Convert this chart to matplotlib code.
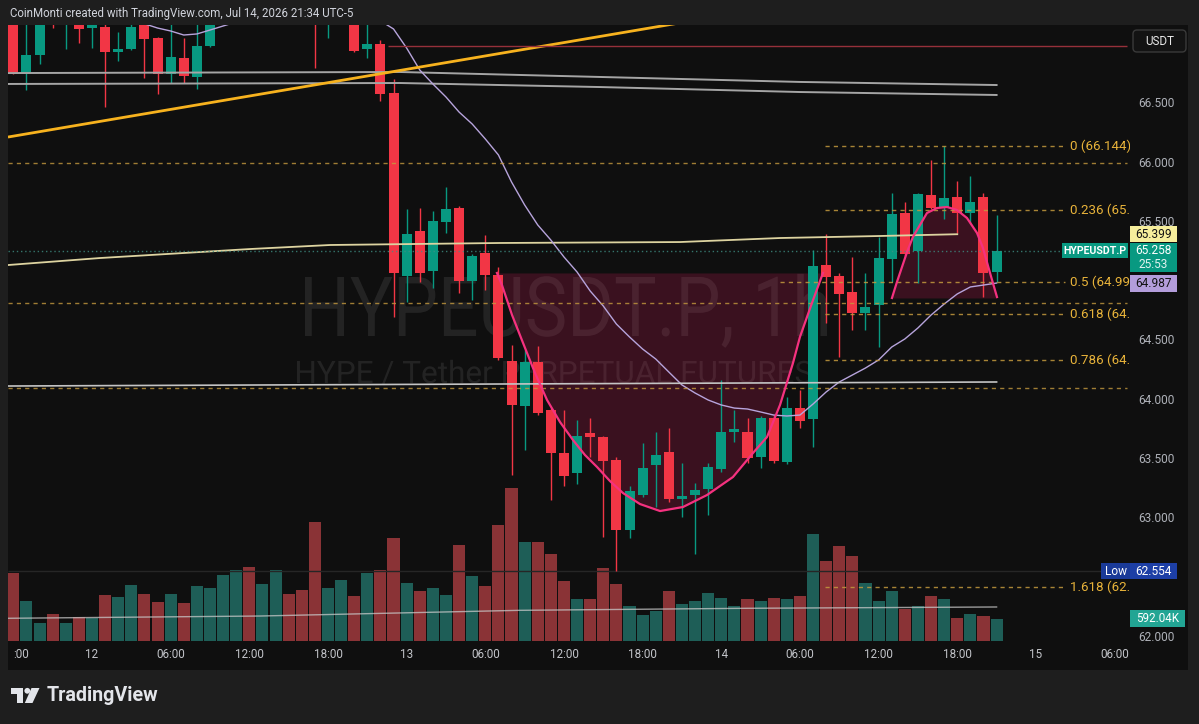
import numpy as np
import matplotlib
matplotlib.use("Agg")
import matplotlib.pyplot as plt
import matplotlib.transforms as mtransforms
from matplotlib.patches import Rectangle, FancyBboxPatch, Polygon, Circle, PathPatch
from matplotlib.textpath import TextPath
from matplotlib.font_manager import FontProperties

plt.rcParams['font.family'] = ['Roboto', 'DejaVu Sans']

# ---------------- data (1h candles, index = hours since Jul 12 00:00) ----------------
bar_index = list(range(-6, 70))
opens = [67.30, 66.759, 66.911, 67.40, 67.20, 67.25, 67.139, 67.148, 66.937, 66.962,
         67.20, 67.055, 66.751, 66.886, 66.726, 66.987, 67.25, 67.40, 67.55, 67.42,
         67.50, 67.62, 67.50, 67.35, 67.20, 67.30, 67.38, 66.962, 67.004, 66.591,
         65.046, 65.426, 65.089, 65.502, 65.620, 65.004, 65.241, 65.055, 64.329, 63.949,
         64.321, 63.916, 63.553, 63.384, 63.722, 63.688, 63.494, 62.903, 63.198, 63.451,
         63.561, 63.165, 63.198, 63.249, 63.418, 63.730, 63.730, 63.519, 63.848, 63.477,
         63.932, 63.840, 65.139, 65.046, 64.911, 64.734, 64.802, 65.190, 65.578, 65.257,
         65.730, 65.629, 65.713, 65.578, 65.713, 65.080]
highs = [67.35, 67.20, 67.30, 67.45, 67.40, 67.30, 67.30, 67.20, 67.105, 67.20,
         67.25, 67.06, 67.20, 67.055, 67.20, 67.30, 67.45, 67.60, 67.62, 67.58,
         67.70, 67.66, 67.55, 67.40, 67.35, 67.42, 67.40, 67.20, 67.038, 66.709,
         65.612, 65.620, 65.595, 65.797, 65.637, 65.232, 65.392, 65.122, 64.464, 64.422,
         64.456, 63.932, 63.916, 63.831, 63.848, 63.696, 63.519, 63.274, 63.637, 63.730,
         63.764, 63.468, 63.300, 63.468, 64.169, 63.916, 63.848, 63.865, 63.873, 64.025,
         64.084, 65.266, 65.401, 65.072, 65.207, 65.072, 65.376, 65.747, 65.671, 65.747,
         66.025, 66.144, 65.848, 65.890, 65.747, 65.561]
lows = [66.755, 66.616, 66.835, 67.139, 66.962, 67.013, 66.970, 66.473, 66.861, 66.955,
        66.717, 66.582, 66.675, 66.675, 66.624, 66.980, 67.20, 67.35, 67.30, 67.35,
        67.45, 67.40, 67.25, 66.802, 67.055, 67.22, 66.940, 66.886, 66.523, 64.700,
        64.827, 64.996, 64.945, 65.409, 64.903, 64.844, 64.928, 64.338, 63.367, 63.578,
        63.873, 63.156, 63.274, 63.291, 63.519, 62.844, 62.554, 62.835, 63.181, 63.097,
        63.139, 63.013, 62.700, 63.030, 63.392, 63.646, 63.468, 63.426, 63.468, 63.460,
        63.764, 63.603, 64.650, 64.363, 64.591, 64.591, 64.447, 64.996, 65.215, 64.987,
        65.612, 65.527, 65.409, 65.494, 64.869, 64.996]
closes = [66.759, 66.911, 67.25, 67.25, 67.35, 67.131, 67.25, 66.937, 66.962, 67.148,
          67.046, 66.751, 66.895, 66.734, 66.987, 67.25, 67.40, 67.55, 67.42, 67.50,
          67.62, 67.50, 67.35, 67.20, 67.30, 67.38, 66.945, 67.004, 66.582, 65.072,
          65.401, 65.072, 65.511, 65.612, 65.004, 65.215, 65.055, 64.354, 63.958, 64.321,
          63.890, 63.553, 63.359, 63.696, 63.688, 63.485, 62.903, 63.232, 63.426, 63.536,
          63.165, 63.190, 63.241, 63.435, 63.730, 63.755, 63.511, 63.848, 63.485, 63.932,
          63.823, 65.131, 65.038, 64.895, 64.734, 64.785, 65.198, 65.570, 65.232, 65.738,
          65.620, 65.705, 65.578, 65.671, 65.072, 65.258]
volumes_k = [1829, 1076, 484, 726, 484, 646, 619, 1237, 1184, 1506,
             1264, 1049, 1264, 1022, 1480, 1426, 1775, 1910, 1991, 1533,
             1910, 1264, 1372, 3201, 1426, 1641, 1211, 1829, 1910, 2771,
             1560, 1345, 1426, 1237, 2582, 1749, 1480, 3120, 4116, 2663,
             2663, 2340, 1614, 1130, 1130, 1964, 1533, 942, 700, 807,
             1345, 995, 1076, 1291, 1157, 942, 1130, 1076, 1157, 1130,
             1211, 2878, 2152, 2556, 2287, 1560, 1076, 1345, 861, 942,
             1211, 1130, 619, 726, 673, 592.04]
ma_purple = [67.45, 67.42, 67.40, 67.37, 67.35, 67.33, 67.30, 67.28, 67.25, 67.21,
             67.175, 67.139, 67.114, 67.080, 67.089, 67.122, 67.156, 67.19, 67.22, 67.25,
             67.27, 67.30, 67.32, 67.33, 67.34, 67.33, 67.31, 67.28, 67.20, 67.131,
             66.970, 66.785, 66.667, 66.557, 66.430, 66.329, 66.203, 66.068, 65.840, 65.646,
             65.477, 65.350, 65.207, 65.080, 64.920, 64.793, 64.641, 64.532, 64.430, 64.346,
             64.236, 64.127, 64.059, 64.000, 63.958, 63.932, 63.924, 63.899, 63.873, 63.865,
             63.873, 63.966, 64.068, 64.152, 64.211, 64.270, 64.338, 64.447, 64.515, 64.608,
             64.717, 64.810, 64.895, 64.954, 64.970, 64.987]

vol_ma_x = [-6.4, 12.8, 32.6, 50.0, 69.0]
vol_ma_k = [611, 672, 825, 880, 915]

trend_x = [-6.41, 46.15]
trend_p = [66.219, 67.207]
gray_ma_x = [-6.4, 23.5, 38.75, 54.0, 69.0]
gray_ma_a = [66.759, 66.768, 66.726, 66.684, 66.658]
gray_ma_b = [66.667, 66.675, 66.641, 66.599, 66.574]
pale_ma_x = [-6.4, 0.6, 12.05, 18.15, 31.1, 44.85, 52.5, 60.1, 66.0]
pale_ma_p = [65.139, 65.198, 65.274, 65.308, 65.325, 65.333, 65.367, 65.384, 65.399]
white_x = [-6.4, 69.0]
white_p = [64.118, 64.152]
red_level = 66.987
red_level_start = 22.6
dashed_levels = [66.0, 64.819, 64.101]
low_level = 62.554
last_price = 65.258

fib_ratios = ["0", "0.236", "0.5", "0.618", "0.786", "1.618"]
fib_prices = [66.144, 65.601, 64.994, 64.723, 64.336, 62.423]

cup_x = [30.89, 31.27, 32.04, 32.88, 33.79, 34.71, 35.70, 36.69, 37.60, 38.52, 39.51, 40.50,
         41.80, 43.33, 45.08, 46.91, 48.89, 50.42, 51.49, 52.48, 53.47, 54.00, 55.00, 55.76]
cup_p = [65.072, 64.970, 64.717, 64.481, 64.228, 64.000, 63.814, 63.662, 63.536, 63.435, 63.316, 63.215,
         63.122, 63.063, 63.097, 63.198, 63.350, 63.553, 63.688, 63.958, 64.312, 64.532, 64.844, 65.072]
handle_x = [61.02, 61.40, 62.17, 62.62, 63.69, 64.45, 65.22, 65.98, 66.74, 67.51, 67.96, 68.50, 69.03]
handle_p = [64.861, 64.996, 65.249, 65.376, 65.578, 65.620, 65.629, 65.603, 65.536, 65.409, 65.283, 65.072, 64.869]

# visible price-scale ticks (65.000 and 62.500 sit under the value boxes)
price_ticks = [66.5, 66.0, 65.5, 64.5, 64.0, 63.5, 63.0, 62.0]
time_ticks_idx = [-6, 0, 6, 12, 18, 24, 30, 36, 42, 48, 54, 60, 66, 72, 78]
time_ticks_lab = [":00", "12", "06:00", "12:00", "18:00", "13", "06:00", "12:00", "18:00",
                  "14", "06:00", "12:00", "18:00", "15", "06:00"]

header = "CoinMonti created with TradingView.com, Jul 14, 2026 21:34 UTC-5"
watermark1 = "HYPEUSDT.P, 1h"
watermark2 = "HYPE / Tether PERPETUAL FUTURES"

# ---------------- layout ----------------
W, H = 1199, 724
X0_PX, BAR_PX = 92.0, 13.11          # pixel x of bar 0, pixels per bar
Y64_PX, USDT_PX = 400.0, 118.5       # pixel y of price 64, pixels per 1 USDT
PANE_L, PANE_T, PANE_R, PANE_B = 8, 25, 1130, 641
SCALE_R, TIME_B = 1188, 670
VOL_K_PER_PX = 26.9

OUTER = '#1e1e1e'
PANE = '#0f0f0f'
UP, DN = '#089981', '#f23645'
VUP, VDN = '#1e5e57', '#8a3336'
FIB = '#c49a3e'

def x_of(px): return (px - X0_PX) / BAR_PX
def p_of(py): return 64 + (Y64_PX - py) / USDT_PX
def py_of(p): return Y64_PX - (p - 64) * USDT_PX
def px_of(i): return X0_PX + i * BAR_PX
def rect(l, t, r, b): return [l / W, 1 - b / H, (r - l) / W, (b - t) / H]
def inch(px, py): return px / 100.0, (H - py) / 100.0

fig = plt.figure(figsize=(W / 100, H / 100), dpi=100)
fig.patch.set_facecolor(OUTER)
DT = fig.dpi_scale_trans

def fbox(l, t, r, b, fc, ec='none', lw=0, rnd=0.0, z=10):
    x, y = inch(l, b)
    if rnd > 0:
        p = FancyBboxPatch((x, y), (r - l) / 100, (b - t) / 100,
                           boxstyle=f"round,pad=0,rounding_size={rnd}",
                           fc=fc, ec=ec, lw=lw, transform=DT, zorder=z)
    else:
        p = Rectangle((x, y), (r - l) / 100, (b - t) / 100, fc=fc, ec=ec, lw=lw,
                      transform=DT, zorder=z)
    fig.add_artist(p)

def ftext(px, py, s, z=11, **kw):
    x, y = inch(px, py)
    fig.text(x, y, s, transform=DT, zorder=z, **kw)

# pane background
fbox(PANE_L, PANE_T, SCALE_R, TIME_B, PANE, z=-5)

xlim = (x_of(PANE_L), x_of(PANE_R))
ylim = (p_of(PANE_B), p_of(PANE_T))

ax_vol = fig.add_axes(rect(PANE_L, PANE_T, PANE_R, PANE_B), label='vol')
ax_vol.set_zorder(0)
ax_vol.patch.set_alpha(0)
ax_vol.set_xlim(*xlim)
ax_vol.set_ylim(0, (PANE_B - PANE_T) * VOL_K_PER_PX)
ax_vol.axis('off')

ax = fig.add_axes(rect(PANE_L, PANE_T, PANE_R, PANE_B), label='price')
ax.set_zorder(1)
ax.patch.set_alpha(0)
ax.set_xlim(*xlim)
ax.set_ylim(*ylim)
ax.axis('off')

idx = np.array(bar_index, dtype=float)
o = np.array(opens); h = np.array(highs); l = np.array(lows); c = np.array(closes)
up = c >= o

# volume
ax_vol.bar(idx, volumes_k, width=0.92, color=[VUP if u else VDN for u in up], lw=0, zorder=1)
ax_vol.plot(vol_ma_x, vol_ma_k, color='#c8c8c8', lw=1.0, alpha=0.75, zorder=2)

# watermark (text path fitted to the reference's extent)
fp = FontProperties(family='Roboto')
def watermark(s, x0, x1, cap_top, base):
    tp = TextPath((0, 0), s, size=100, prop=fp)
    ext = tp.get_extents()
    caph = TextPath((0, 0), 'H', size=100, prop=fp).get_extents().y1
    sx = (x1 - x0) / ext.width / 100.0
    sy = (base - cap_top) / caph / 100.0
    tr = (mtransforms.Affine2D().translate(-ext.x0, 0).scale(sx, sy)
          .translate(x0 / 100.0, (H - base) / 100.0) + DT)
    ax.add_artist(PathPatch(tp, transform=tr, fc='white', ec='none', alpha=0.085, zorder=0.5))
watermark(watermark1, 305, 827, 277, 336)
watermark(watermark2, 297, 812, 361, 383)

# cup & handle fills
ax.fill_between(cup_x, cup_p, max(cup_p[0], cup_p[-1]), color='#e91e63', alpha=0.2, lw=0, zorder=1)
ax.fill_between(handle_x, handle_p, min(handle_p), color='#e91e63', alpha=0.2, lw=0, zorder=1)

# candles
col = np.where(up, UP, DN)
ax.vlines(idx, l, h, colors=col, lw=1.0, zorder=2)
body_h = np.maximum(np.abs(c - o), 1.4 / USDT_PX)
ax.bar(idx, body_h, bottom=np.minimum(o, c), width=0.763, color=col, lw=0, zorder=2.1)

# indicator lines
ax.plot(gray_ma_x, gray_ma_a, color='#a5a5a5', lw=1.4, zorder=3)
ax.plot(gray_ma_x, gray_ma_b, color='#a5a5a5', lw=1.4, zorder=3)
ax.plot(pale_ma_x, pale_ma_p, color='#ddd3a0', lw=1.3, zorder=3)
ax.plot(idx, ma_purple, color='#b7a4dc', lw=1.0, zorder=3)

# drawings
ax.plot(trend_x, trend_p, color='#f7b21e', lw=2.0, zorder=4, solid_capstyle='butt')
ax.plot(white_x, white_p, color='#c4c4c4', lw=1.2, zorder=4)
ax.hlines(red_level, red_level_start, x_of(1127), color='#96303a', lw=1.0, zorder=4)
for lv in dashed_levels:
    ax.hlines(lv, xlim[0], x_of(1127), color=FIB, lw=1.0, linestyles=(0, (3, 3)), alpha=0.8, zorder=4)
ax.hlines(low_level, xlim[0], xlim[1], color='#262626', lw=1.0, zorder=0.8)
ax.hlines(last_price, xlim[0], x_of(1062), color='#3f8f84', lw=1.0, linestyles=(0, (1, 2)), alpha=0.8, zorder=4)
for r, fpz in zip(fib_ratios, fib_prices):
    start = x_of(780) if r == "0.5" else x_of(825)
    ax.hlines(fpz, start, x_of(1065), color=FIB, lw=1.0, linestyles=(0, (3, 3)), alpha=0.85, zorder=4)
    ax.text(x_of(1070), fpz, f"{r} ({fpz:.3f})", color='#e8b33a', fontsize=9.6,
            va='center', ha='left', clip_on=True, zorder=6)
ax.plot(cup_x, cup_p, color='#f5317f', lw=1.6, zorder=5)
ax.plot(handle_x, handle_p, color='#f5317f', lw=1.6, zorder=5)

# price scale
ax_p = fig.add_axes(rect(PANE_R, PANE_T, SCALE_R, PANE_B), label='scale')
ax_p.set_xlim(PANE_R, SCALE_R)
ax_p.set_ylim(*ylim)
ax_p.axis('off')
for p in price_ticks:
    ax_p.text(1138, p, f"{p:.3f}", color='#aeb1b8', fontsize=8.6, va='center', ha='left', clip_on=True)

# time scale
for i, lab in zip(time_ticks_idx, time_ticks_lab):
    xx = px_of(i) + (7.5 if lab == ":00" else 0)
    ftext(xx, 654, lab, color='#c3c5ca', fontsize=8.4, ha='center', va='center')

# header
ftext(10, 13, header, color='#d1d4dc', fontsize=8.3, ha='left', va='center')

# price-scale labels
fbox(1133, 30, 1186, 52, '#131313', ec='#3a3a3a', lw=1, rnd=0.04)
ftext(1159.5, 41.5, "USDT", color='#e8e8e8', fontsize=8.4, ha='center', va='center')

cy = py_of(pale_ma_p[-1])
fbox(1130, cy - 8, 1177, cy + 8, '#f6ee9c')
ftext(1153.5, cy, f"{pale_ma_p[-1]:.3f}", color='#131313', fontsize=8.6, ha='center', va='center')

cy = py_of(last_price)
fbox(1062, cy - 7.5, 1128, cy + 7.5, UP)
ftext(1095, cy, "HYPEUSDT.P", color='white', fontsize=7.6, fontweight='bold', ha='center', va='center')
fbox(1130, cy - 7.5, 1177, cy + 21.5, UP)
ftext(1153.5, cy, f"{last_price:.3f}", color='white', fontsize=8.6, ha='center', va='center')
ftext(1153.5, cy + 13.5, "25:53", color='#e0f2ef', fontsize=8.6, ha='center', va='center')

cy = py_of(ma_purple[-1])
fbox(1130, cy - 8.5, 1177, cy + 8.5, '#b39ddb')
ftext(1153.5, cy, f"{ma_purple[-1]:.3f}", color='#131313', fontsize=8.6, ha='center', va='center')

cy = py_of(low_level)
fbox(1101, cy - 8, 1130, cy + 8, '#1a3a98')
ftext(1115.5, cy, "Low", color='white', fontsize=8.6, ha='center', va='center')
fbox(1130, cy - 8, 1177, cy + 8, '#1d3fa6')
ftext(1153.5, cy, f"{low_level:.3f}", color='white', fontsize=8.6, ha='center', va='center')

cy = PANE_B - volumes_k[-1] / VOL_K_PER_PX
fbox(1130, cy - 8.5, 1185, cy + 8.5, '#22a594')
ftext(1157.5, cy, f"{volumes_k[-1]:.2f}K", color='white', fontsize=8.4, ha='center', va='center')

# TradingView logo
logo_col = '#e3e5ea'
fig.add_artist(Polygon([inch(10.5, 688), inch(22.5, 688), inch(22.5, 703), inch(16.5, 703),
                        inch(16.5, 693.5), inch(10.5, 693.5)], closed=True, fc=logo_col, ec='none',
                       transform=DT, zorder=10))
fig.add_artist(Circle(inch(27.3, 690.8), 0.029, fc=logo_col, ec='none', transform=DT, zorder=10))
fig.add_artist(Polygon([inch(31.5, 688), inch(39.5, 688), inch(32.5, 703), inch(24.8, 703)],
                       closed=True, fc=logo_col, ec='none', transform=DT, zorder=10))
ftext(47, 695.5, "TradingView", color=logo_col, fontsize=14.2, fontweight='bold', ha='left', va='center')

fig.savefig("out.png", dpi=100, facecolor=OUTER)
